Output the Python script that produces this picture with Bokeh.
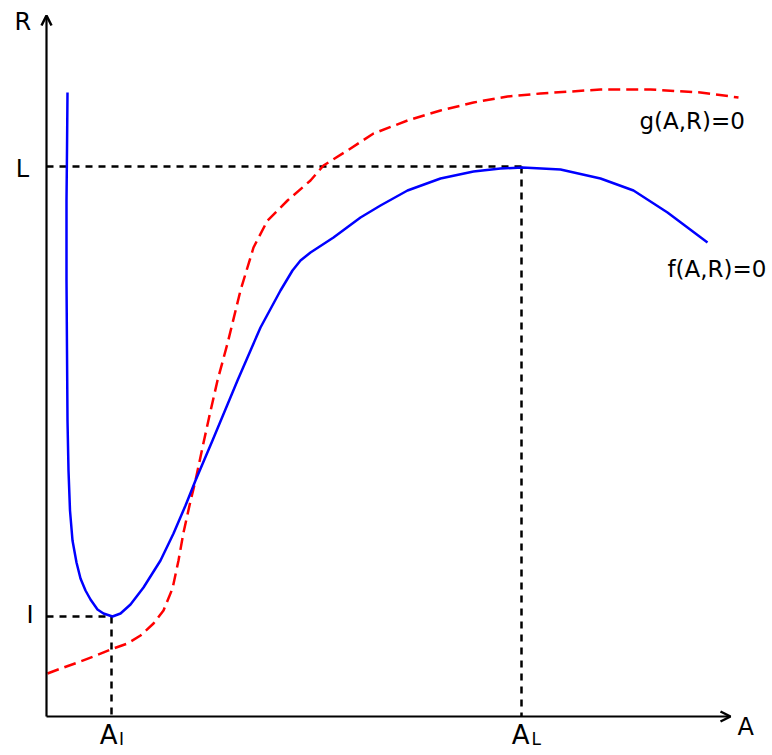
from bokeh.plotting import figure
from bokeh.models import Range1d, Arrow, OpenHead
from bokeh.embed import file_html
from bokeh.resources import INLINE
from bokeh.core.properties import value

# Curve f(A,R)=0 (solid blue)
f_A = [2.1, 2.05, 2.0, 2.0, 2.05, 2.1, 2.2, 2.35, 2.6, 3.0, 3.4, 3.9, 4.4, 5.1, 5.7, 6.6,
       7.4, 8.4, 9.7, 11.4, 12.7, 13.9, 14.9, 16.6, 19.1, 21.4, 23.4, 24.6, 25.4, 26.4,
       28.7, 31.4, 33.4, 36.1, 39.4, 42.7, 45.4, 47.6, 51.4, 55.4, 58.7, 62.1, 66.1]
f_R = [62.4, 56.6, 51.6, 43.6, 36.6, 29.6, 24.6, 20.6, 17.6, 15.4, 13.8, 12.6, 11.7, 10.7, 10.3, 10.0,
       10.3, 11.2, 12.9, 15.6, 18.3, 21.1, 23.6, 27.6, 33.6, 38.9, 42.6, 44.6, 45.6, 46.4,
       47.9, 49.9, 51.1, 52.6, 53.8, 54.5, 54.8, 54.9, 54.7, 53.8, 52.6, 50.4, 47.4]

# Curve g(A,R)=0 (dashed red)
g_A = [0.1, 1.7, 3.4, 4.7, 6.4, 8.1, 9.4, 10.7, 11.7, 12.6, 13.2, 13.7, 14.3, 14.9, 15.6,
       16.3, 17.1, 18.1, 19.4, 20.7, 22.1, 24.1, 26.4, 27.7, 30.1, 32.7, 36.1, 39.4, 42.7,
       46.1, 49.4, 55.4, 60.4, 65.4, 69.2]
g_R = [4.3, 4.9, 5.5, 6.0, 6.7, 7.3, 8.1, 9.3, 10.6, 12.8, 15.6, 18.4, 21.1, 23.6, 26.9,
       30.1, 33.6, 37.3, 42.6, 46.9, 49.6, 51.6, 53.6, 55.1, 56.6, 58.3, 59.6, 60.6, 61.4,
       62.0, 62.3, 62.7, 62.7, 62.4, 61.9]

# Marked points
A_I, R_I = 6.5, 10.0
A_L, R_L = 47.5, 55.0
A_end, R_end = 68.4, 70.1

FONT = value("DejaVu Sans")

p = figure(width=772, height=755, x_range=Range1d(-4.6, 72.6), y_range=Range1d(-3.9, 71.6),
           output_backend="svg", toolbar_location=None,
           x_axis_location=None, y_axis_location=None, min_border=0)
p.grid.visible = False
p.outline_line_color = None
p.background_fill_color = "white"
p.border_fill_color = "white"

# reference dashed lines
for xs, ys in (([0, A_L], [R_L, R_L]), ([A_L, A_L], [R_L, 0]),
               ([0, A_I], [R_I, R_I]), ([A_I, A_I], [R_I, 0])):
    p.line(xs, ys, line_color="black", line_width=2.5, line_dash="7 6")

# curves
p.line(g_A, g_R, line_color="#ff0000", line_width=2.5, line_dash="12 6")
p.line(f_A, f_R, line_color="#0000ff", line_width=2.5, line_join="round")

# axes with arrows
p.add_layout(Arrow(end=OpenHead(size=10, line_width=2.5, line_color="black"),
                   x_start=0, y_start=0, x_end=A_end, y_end=0,
                   line_width=2.2, line_color="black"))
p.add_layout(Arrow(end=OpenHead(size=10, line_width=2.5, line_color="black"),
                   x_start=0, y_start=0, x_end=0, y_end=R_end,
                   line_width=2.2, line_color="black"))

def label(x, y, t, size="24px", align="left"):
    p.text(x=[x], y=[y], text=[t], text_font=FONT, text_font_size=size,
           text_color="black", text_align=align, text_baseline="alphabetic")

label(-3.2, 69.5, "R")
label(69.1, -1.05, "A")
label(-2.4, R_L - 0.25, "L", align="center")
label(-1.65, R_I + 0.15, "I", align="center")
label(A_I + 0.6, -1.85, "A", size="26px", align="right")
label(A_I + 0.75, -2.25, "I", size="17px")
label(A_L + 0.8, -1.85, "A", size="26px", align="right")
label(A_L + 1.0, -2.25, "L", size="17px")
label(59.3, 59.55, "g(A,R)=0", size="23px")
label(62.1, 44.75, "f(A,R)=0", size="23px")

open("out.html", "w").write(file_html(p, INLINE))
